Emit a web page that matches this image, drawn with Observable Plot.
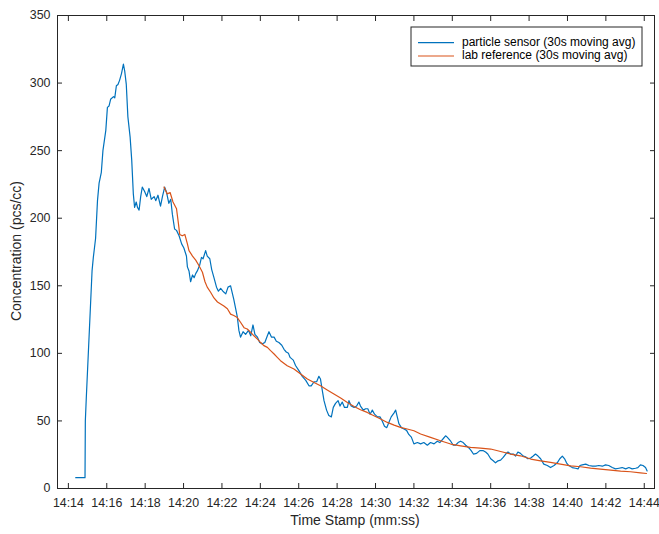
<!DOCTYPE html>
<html>
<head>
<meta charset="utf-8">
<script src="https://cdn.jsdelivr.net/npm/d3@7"></script>
<script src="https://cdn.jsdelivr.net/npm/@observablehq/plot@0.6"></script>
<style>
  html, body { margin: 0; padding: 0; background: #fff; }
  #chart svg { display: block; }
</style>
</head>
<body>
<div id="chart"></div>
<script>
// ---- data ----
const sensorTime = ["14:14:23","14:14:52","14:14:53","14:14:56","14:15:14","14:15:18","14:15:25","14:15:31","14:15:36","14:15:43","14:15:48","14:15:57","14:16:02","14:16:07","14:16:12","14:16:21","14:16:25","14:16:30","14:16:35","14:16:40","14:16:46","14:16:52","14:16:56","14:17:01","14:17:06","14:17:13","14:17:18","14:17:23","14:17:27","14:17:32","14:17:36","14:17:41","14:17:46","14:17:51","14:17:58","14:18:05","14:18:12","14:18:19","14:18:28","14:18:33","14:18:40","14:18:48","14:18:54","14:19:01","14:19:07","14:19:14","14:19:20","14:19:25","14:19:32","14:19:38","14:19:46",
"14:19:54","14:20:01","14:20:09","14:20:12","14:20:17","14:20:22","14:20:28","14:20:33","14:20:38","14:20:43","14:20:50","14:20:56","14:21:01","14:21:09","14:21:14","14:21:22","14:21:28","14:21:35","14:21:43","14:21:49","14:21:56","14:22:03","14:22:12","14:22:19","14:22:27","14:22:32","14:22:37","14:22:43","14:22:48","14:22:53","14:22:58","14:23:06","14:23:14","14:23:23","14:23:30","14:23:37","14:23:43","14:23:51","14:23:58","14:24:06","14:24:14","14:24:22","14:24:27","14:24:35","14:24:43","14:24:50","14:24:58","14:25:07","14:25:14","14:25:21","14:25:28","14:25:33",
"14:25:43","14:25:50","14:26:01","14:26:11","14:26:22","14:26:32","14:26:39","14:26:48","14:26:56","14:27:03","14:27:08","14:27:14","14:27:19","14:27:27","14:27:34","14:27:42","14:27:48","14:27:55","14:28:03","14:28:09","14:28:16","14:28:23","14:28:32","14:28:37","14:28:44","14:28:53","14:29:01","14:29:08","14:29:13","14:29:22","14:29:29","14:29:36","14:29:43","14:29:50","14:29:57","14:30:06","14:30:14","14:30:21","14:30:28","14:30:35","14:30:42","14:30:49","14:30:58","14:31:03","14:31:08","14:31:13","14:31:21","14:31:29","14:31:37","14:31:44","14:31:52",
"14:32:00","14:32:11","14:32:21","14:32:31","14:32:42","14:32:52","14:33:03","14:33:13","14:33:21","14:33:32","14:33:39","14:33:44","14:33:55","14:34:03","14:34:10","14:34:18","14:34:26","14:34:34","14:34:42","14:34:52","14:34:59","14:35:06","14:35:16","14:35:26","14:35:37","14:35:44","14:35:51","14:36:00","14:36:08","14:36:15","14:36:23","14:36:31","14:36:39","14:36:47","14:36:54","14:37:02","14:37:11","14:37:18","14:37:25","14:37:33","14:37:42","14:37:49","14:37:56","14:38:05","14:38:13","14:38:20","14:38:28","14:38:36","14:38:46","14:38:57","14:39:07","14:39:18","14:39:28","14:39:36","14:39:44","14:39:51","14:39:57","14:40:04","14:40:15","14:40:25","14:40:33","14:40:39","14:40:46","14:40:57","14:41:07","14:41:18","14:41:28","14:41:38","14:41:49","14:41:59","14:42:09","14:42:20","14:42:30","14:42:41","14:42:51","14:43:02","14:43:12","14:43:22","14:43:33","14:43:40","14:43:48","14:43:56","14:44:04","14:44:09"];
const sensorValue = [8,8,50,67,161,171,185,213,226,234,250,265,282,283,288,290,289,298,299,302,307,314,309,299,275,260,243,218,208,212,208,206,216,223,220,216,222,214,216,213,217,209,216,223,219,211,214,203,192,191,187,
181,178,172,164,161,153,158,156,159,161,165,171,170,176,172,170,162,156,149,146,148,146,144,149,150,145,140,133,127,117,112,116,114,117,113,121,114,112,108,107,108,113,116,112,112,109,108,106,103,101,100,97,
95,91,87,83,80,76,76,79,79,83,81,72,65,58,54,53,60,63,65,61,64,60,60,65,61,60,61,64,61,58,59,59,55,58,55,53,53,50,46,45,49,53,56,58,53,48,45,44,43,40,38,
33,34,33,34,32,34,33,35,34,37,39,38,35,32,32,34,35,34,32,30,28,25.5,26,28,28,27,25.5,22,20.5,19,20.5,21,23,25.5,27,25.5,25.5,24,27,26,24,23.5,22,22.5,24,25.5,24,22,18,17,15.5,17,19,22,24,22,19,17,15.5,15,14.5,17,17.5,18,17,16.5,16.5,17,16.5,17.5,17,15.5,14.5,15,15.5,14.5,15.5,14.5,15,15.5,17.5,17,15.5,13];

const labTime = ["14:18:59","14:19:09","14:19:18","14:19:27","14:19:38","14:19:44","14:19:48","14:19:56","14:20:04","14:20:12","14:20:17","14:20:28","14:20:38","14:20:48","14:20:59","14:21:07","14:21:14","14:21:25","14:21:35","14:21:46","14:21:56","14:22:06","14:22:17","14:22:27","14:22:37","14:22:48","14:22:58","14:23:09","14:23:19","14:23:30","14:23:40","14:23:51","14:24:01","14:24:11","14:24:22","14:24:32","14:24:43","14:24:53","14:25:03","14:25:24","14:25:45","14:26:06","14:26:27","14:26:48","14:27:08","14:27:29","14:27:50","14:28:11","14:28:32","14:28:53","14:29:13","14:29:34","14:29:55","14:30:16","14:30:37","14:30:58","14:31:18","14:31:39","14:32:00","14:32:21","14:32:52","14:33:23","14:33:55","14:34:26","14:34:57","14:35:28","14:36:00","14:36:31","14:37:02","14:37:33","14:38:05","14:38:36","14:39:07","14:39:38","14:40:10","14:40:41","14:41:12","14:41:43","14:42:15","14:42:46","14:43:17","14:43:48","14:44:07"];
const labValue = [223,218,219,212,207,196,188,187,188,181,176,172,169,165,160,153,149,145,141,138,136.5,135,133,129,128,126.5,123,119,118,115.5,113,110.5,108,105.7,104.4,102,99.5,97,94.6,90.8,88.4,84.7,81,78.5,76,72.9,69.9,66.9,63.7,60.7,58.3,56.3,53.8,51.4,48.9,46.9,45.2,44,42.7,40.3,37.8,35.3,32.9,31.6,30.4,29.9,29.2,27.4,25.5,24.2,21.8,20.5,19.3,18.1,16.8,16.1,15.1,14.4,13.6,12.9,12.4,11.6,11.1];

const xTickLabels = ["14:14","14:16","14:18","14:20","14:22","14:24","14:26","14:28","14:30","14:32","14:34","14:36","14:38","14:40","14:42","14:44"];
const yTicks = [0,50,100,150,200,250,300,350];
const xDomain = ["14:13:26","14:44:32"];
const seriesNames = ["particle sensor (30s moving avg)","lab reference (30s moving avg)"];
const seriesColors = ["#0072BD","#D95319"];
const xLabel = "Time Stamp (mm:ss)";
const yLabel = "Concentration (pcs/cc)";

// ---- helpers ----
const T = s => { const p = s.split(":").map(Number); return new Date(Date.UTC(2024,0,1,p[0],p[1],p[2]||0)); };
const sensor = sensorTime.map((t,i) => ({t: T(t), v: sensorValue[i]}));
const lab = labTime.map((t,i) => ({t: T(t), v: labValue[i]}));
const xTicks = xTickLabels.map(T);

const axisColor = "#262626";
const font = "'Liberation Sans', Arial, Helvetica, sans-serif";
const blank = () => "";

const chart = Plot.plot({
  width: 659,
  height: 534,
  marginLeft: 57,
  marginRight: 5,
  marginTop: 15,
  marginBottom: 46,
  style: {fontFamily: font, color: axisColor, background: "#fff"},
  x: {type: "utc", domain: xDomain.map(T)},
  y: {domain: [0, 350]},
  marks: [
    Plot.line(sensor, {x: "t", y: "v", stroke: seriesColors[0], strokeWidth: 1.2}),
    Plot.line(lab, {x: "t", y: "v", stroke: seriesColors[1], strokeWidth: 1.2}),
    Plot.frame({stroke: axisColor, strokeWidth: 1}),
    // inward tick marks on all four sides
    Plot.axisX({anchor: "bottom", ticks: xTicks, tickFormat: blank, tickSize: 5, dy: -5, label: null, stroke: axisColor}),
    Plot.axisX({anchor: "top", ticks: xTicks, tickFormat: blank, tickSize: 5, dy: 5, label: null, stroke: axisColor}),
    Plot.axisY({anchor: "left", ticks: yTicks, tickFormat: blank, tickSize: 5, dx: 5, label: null, stroke: axisColor}),
    Plot.axisY({anchor: "right", ticks: yTicks, tickFormat: blank, tickSize: 5, dx: -5, label: null, stroke: axisColor}),
    // tick labels
    Plot.axisX({anchor: "bottom", ticks: xTicks, tickFormat: d3.utcFormat("%H:%M"), tickSize: 0, tickPadding: 10, fontSize: 12.4, label: null, fill: axisColor}),
    Plot.axisY({anchor: "left", ticks: yTicks, tickSize: 0, tickPadding: 7, fontSize: 12.4, label: null, fill: axisColor})
  ]
});
document.getElementById("chart").appendChild(chart);

// axis titles and legend (annotation elements)
const svg = d3.select(chart);
svg.append("text")
  .attr("x", 355).attr("y", 521)
  .attr("text-anchor", "middle").attr("dominant-baseline", "middle")
  .style("font-size", "14px").style("font-family", font).attr("fill", axisColor)
  .text(xLabel);
svg.append("text")
  .attr("transform", "translate(17,251) rotate(-90)")
  .attr("text-anchor", "middle").attr("dominant-baseline", "middle")
  .style("font-size", "14px").style("font-family", font).attr("fill", axisColor)
  .text(yLabel);

const lg = svg.append("g").attr("transform", "translate(411,27)");
lg.append("rect").attr("x", 0).attr("y", 0).attr("width", 231).attr("height", 39)
  .attr("fill", "#fff").attr("stroke", axisColor).attr("stroke-width", 1);
seriesNames.forEach((name, i) => {
  const cy = 15.7 + i * 13.3;
  lg.append("line").attr("x1", 7).attr("x2", 43).attr("y1", cy).attr("y2", cy)
    .attr("stroke", seriesColors[i]).attr("stroke-width", 1.2);
  lg.append("text").attr("x", 51).attr("y", cy)
    .attr("text-anchor", "start").attr("dominant-baseline", "middle")
    .style("font-size", "12px").style("font-family", font).attr("fill", "#000")
    .text(name);
});
</script>
</body>
</html>
